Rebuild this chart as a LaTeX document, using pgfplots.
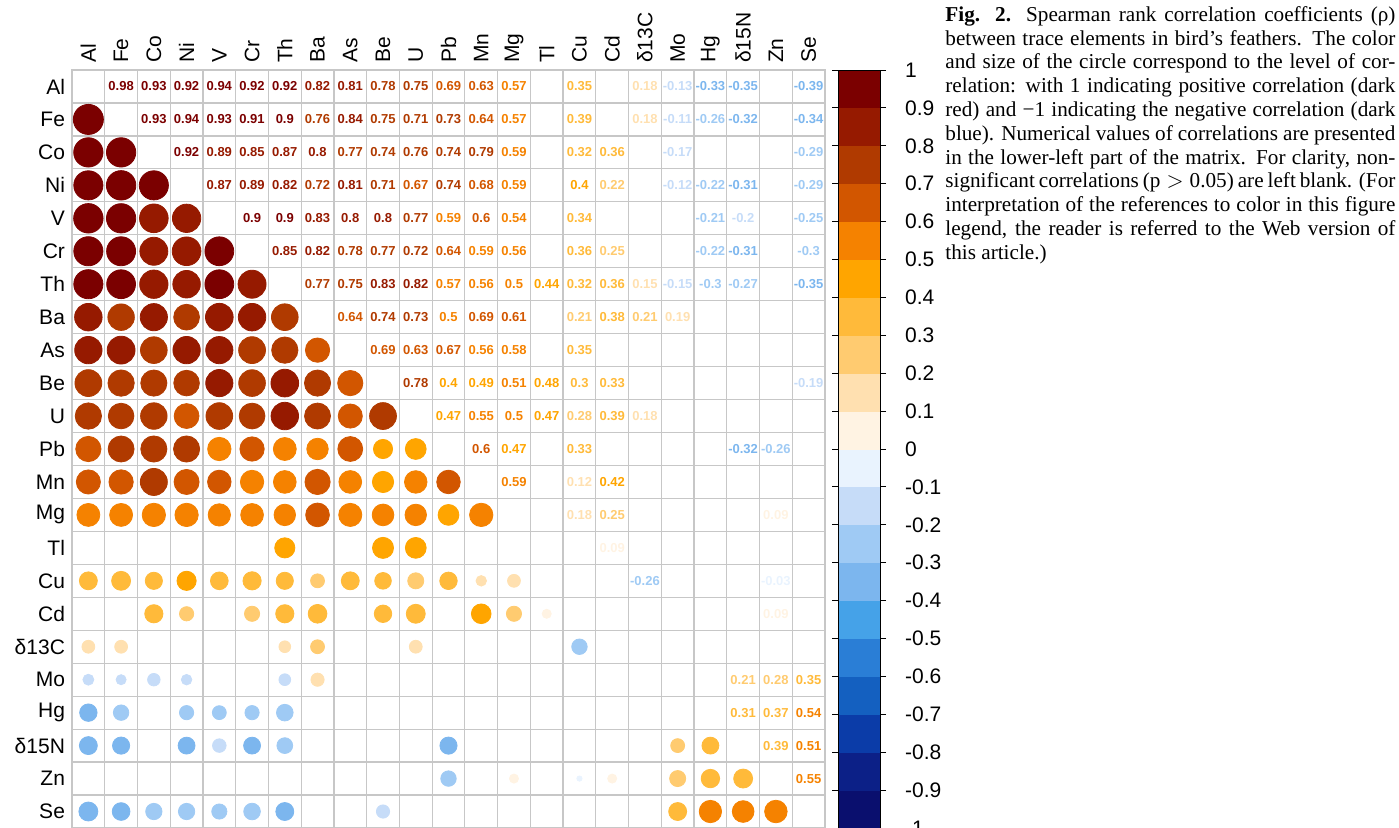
\documentclass[border=0pt]{standalone}
\usepackage{pgfplots}
\pgfplotsset{compat=1.18}
\usepackage{pgfplotstable}
\usepackage{fontspec}
\setmainfont{Liberation Sans}
\newfontfamily\capfont{Liberation Serif}
\pgfplotstableread{
i j r
1 2 0.98
1 3 0.93
1 4 0.92
1 5 0.94
1 6 0.92
1 7 0.92
1 8 0.82
1 9 0.81
1 10 0.78
1 11 0.75
1 12 0.69
1 13 0.63
1 14 0.57
1 16 0.35
1 18 0.18
1 19 -0.13
1 20 -0.33
1 21 -0.35
1 23 -0.39
2 3 0.93
2 4 0.94
2 5 0.93
2 6 0.91
2 7 0.9
2 8 0.76
2 9 0.84
2 10 0.75
2 11 0.71
2 12 0.73
2 13 0.64
2 14 0.57
2 16 0.39
2 18 0.18
2 19 -0.11
2 20 -0.26
2 21 -0.32
2 23 -0.34
3 4 0.92
3 5 0.89
3 6 0.85
3 7 0.87
3 8 0.8
3 9 0.77
3 10 0.74
3 11 0.76
3 12 0.74
3 13 0.79
3 14 0.59
3 16 0.32
3 17 0.36
3 19 -0.17
3 23 -0.29
4 5 0.87
4 6 0.89
4 7 0.82
4 8 0.72
4 9 0.81
4 10 0.71
4 11 0.67
4 12 0.74
4 13 0.68
4 14 0.59
4 16 0.4
4 17 0.22
4 19 -0.12
4 20 -0.22
4 21 -0.31
4 23 -0.29
5 6 0.9
5 7 0.9
5 8 0.83
5 9 0.8
5 10 0.8
5 11 0.77
5 12 0.59
5 13 0.6
5 14 0.54
5 16 0.34
5 20 -0.21
5 21 -0.2
5 23 -0.25
6 7 0.85
6 8 0.82
6 9 0.78
6 10 0.77
6 11 0.72
6 12 0.64
6 13 0.59
6 14 0.56
6 16 0.36
6 17 0.25
6 20 -0.22
6 21 -0.31
6 23 -0.3
7 8 0.77
7 9 0.75
7 10 0.83
7 11 0.82
7 12 0.57
7 13 0.56
7 14 0.5
7 15 0.44
7 16 0.32
7 17 0.36
7 18 0.15
7 19 -0.15
7 20 -0.3
7 21 -0.27
7 23 -0.35
8 9 0.64
8 10 0.74
8 11 0.73
8 12 0.5
8 13 0.69
8 14 0.61
8 16 0.21
8 17 0.38
8 18 0.21
8 19 0.19
9 10 0.69
9 11 0.63
9 12 0.67
9 13 0.56
9 14 0.58
9 16 0.35
10 11 0.78
10 12 0.4
10 13 0.49
10 14 0.51
10 15 0.48
10 16 0.3
10 17 0.33
10 23 -0.19
11 12 0.47
11 13 0.55
11 14 0.5
11 15 0.47
11 16 0.28
11 17 0.39
11 18 0.18
12 13 0.6
12 14 0.47
12 16 0.33
12 21 -0.32
12 22 -0.26
13 14 0.59
13 16 0.12
13 17 0.42
14 16 0.18
14 17 0.25
14 22 0.09
15 17 0.09
16 18 -0.26
16 22 -0.03
17 22 0.09
19 21 0.21
19 22 0.28
19 23 0.35
20 21 0.31
20 22 0.37
20 23 0.54
21 22 0.39
21 23 0.51
22 23 0.55
}\corr
\pgfplotsset{colormap={corrmap}{
rgb255=(10,15,110) rgb255=(12,32,135) rgb255=(11,60,168) rgb255=(20,96,192)
rgb255=(42,126,214) rgb255=(69,162,232) rgb255=(124,182,238) rgb255=(159,202,244)
rgb255=(198,220,248) rgb255=(233,243,254) rgb255=(255,243,227) rgb255=(255,224,176)
rgb255=(255,203,112) rgb255=(255,186,58) rgb255=(255,165,0) rgb255=(245,130,0)
rgb255=(210,86,0) rgb255=(176,58,0) rgb255=(150,26,0) rgb255=(123,0,0)}}
\begin{document}
\begin{tikzpicture}
\begin{axis}[name=ax, at={(0,0)}, anchor=south west,
  scale only axis, width=376.5pt, height=379pt,
  xmin=0.5, xmax=23.5, ymin=0.5, ymax=23.5, y dir=reverse,
  xtick={1,...,23}, ytick={1,...,23},
  xticklabels={Al,Fe,Co,Ni,V,Cr,Th,Ba,As,Be,U,Pb,Mn,Mg,Tl,Cu,Cd,δ13C,Mo,Hg,δ15N,Zn,Se},
  yticklabels={Al,Fe,Co,Ni,V,Cr,Th,Ba,As,Be,U,Pb,Mn,Mg,Tl,Cu,Cd,δ13C,Mo,Hg,δ15N,Zn,Se},
  xticklabel pos=upper,
  x tick label style={rotate=90, anchor=west, font=\fontsize{10.5}{12}\selectfont},
  y tick label style={anchor=east, font=\fontsize{10.5}{12}\selectfont},
  major tick length=0pt,
  minor xtick={0.5,1.5,...,23.5}, minor ytick={0.5,1.5,...,23.5},
  minor tick length=0pt,
  minor grid style={draw=black!22, line width=0.6pt},
  grid=minor,
  axis line style={draw=black!22, line width=0.6pt},
  colormap name=corrmap, colormap access=piecewise constant,
  point meta min=-1, point meta max=1,
  colorbar,
  colorbar style={at={(1.0173,1)}, anchor=north west, width=21pt,
    ytick={-1,-0.9,-0.8,-0.7,-0.6,-0.5,-0.4,-0.3,-0.2,-0.1,0,0.1,0.2,0.3,0.4,0.5,0.6,0.7,0.8,0.9,1},
    yticklabels={-1,-0.9,-0.8,-0.7,-0.6,-0.5,-0.4,-0.3,-0.2,-0.1,0,0.1,0.2,0.3,0.4,0.5,0.6,0.7,0.8,0.9,1},
    yticklabel pos=right, major tick length=3pt,
    ytick style={draw=black, line width=0.4pt},
    tick align=outside,
    y tick label style={font=\fontsize{10.5}{12}\selectfont, xshift=6pt},
    axis line style={draw=black}},
]
\addplot[scatter, only marks, mark=*, point meta=explicit,
  scatter/use mapped color={draw=mapped color, fill=mapped color},
  visualization depends on={7.6*sqrt(abs(\thisrow{r}))\as\rad},
  scatter/@pre marker code/.append style={/tikz/mark size=\rad pt}]
  table[x=i, y=j, meta=r] {\corr};
\addplot[scatter, only marks, mark=*, mark size=0pt, point meta=explicit,
  scatter/use mapped color={draw opacity=0, fill opacity=0},
  visualization depends on={\thisrow{r}\as\rv},
  scatter/@pre marker code/.append code={%
    \node[text=mapped color, text opacity=1, anchor=center, inner sep=0pt, xshift=8.18pt, yshift=-8.24pt,
      font=\fontsize{6.5}{7}\selectfont\bfseries] at (0,0)
      {\pgfmathprintnumber[fixed,precision=2,assume math mode=true]{\rv}};}]
  table[x=j, y=i, meta=r] {\corr};
\end{axis}
\node[anchor=north west, text width=225pt, align=justify, inner sep=0pt,
  font=\capfont\fontsize{10.6}{11.9}\selectfont] at (436.5pt,411pt)
{\textbf{Fig. 2.} Spearman rank correlation coefficients (ρ) between trace elements in bird’s feathers. The color and size of the circle correspond to the level of correlation: with 1 indicating positive correlation (dark red) and −1 indicating the negative correlation (dark blue). Numerical values of correlations are presented in the lower-left part of the matrix. For clarity, non-significant correlations (p$\;>\;$0.05) are left blank. (For interpretation of the references to color in this figure legend, the reader is referred to the Web version of this article.)};
\pgfresetboundingbox
\path (-36pt,0pt) rectangle (663.5pt,414pt);
\end{tikzpicture}
\end{document}
